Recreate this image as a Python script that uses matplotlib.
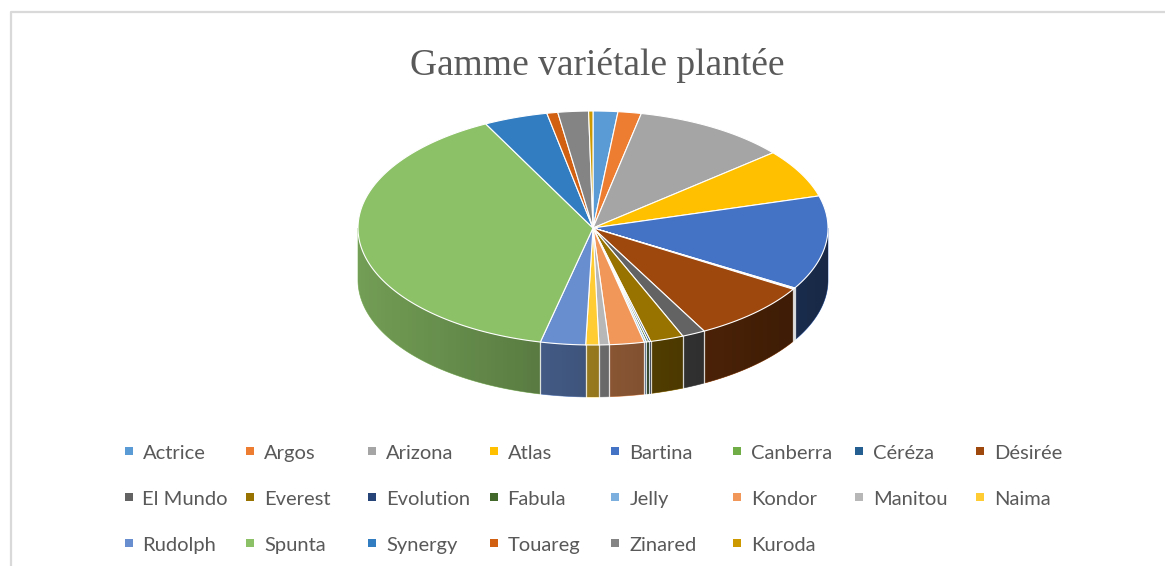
import numpy as np
import matplotlib
matplotlib.use("Agg")
import matplotlib.pyplot as plt
from matplotlib.patches import Polygon, Rectangle
from matplotlib.colors import to_rgb

labels = ["Actrice", "Argos", "Arizona", "Atlas", "Bartina", "Canberra", "Céréza", "Désirée",
          "El Mundo", "Everest", "Evolution", "Fabula", "Jelly", "Kondor", "Manitou", "Naima",
          "Rudolph", "Spunta", "Synergy", "Touareg", "Zinared", "Kuroda"]
values = [1.7, 1.6, 10.6, 6.7, 13.0, 0.1, 0.1, 8.4,
          1.6, 2.3, 0.15, 0.15, 0.15, 2.4, 0.7, 0.9,
          3.1, 38.9, 4.4, 0.75, 2.1, 0.3]
colors = ["#5B9BD5", "#ED7D31", "#A5A5A5", "#FFC000", "#4472C4", "#70AD47", "#255E91", "#9E480E",
          "#636363", "#997300", "#264478", "#43682B", "#7CAFDD", "#F1975A", "#B7B7B7", "#FFCD33",
          "#698ED0", "#8CC168", "#327DC2", "#D26012", "#848484", "#CC9A00"]
title = "Gamme variétale plantée"

W, H = 1165, 566
fig = plt.figure(figsize=(W / 100, H / 100), dpi=100)
ax = fig.add_axes([0, 0, 1, 1])
ax.set_xlim(0, W)
ax.set_ylim(H, 0)
ax.axis("off")

# chart area border
ax.plot([10.5, 10.5, W + 5], [H + 5, 11.5, 11.5], color="#D9D9D9", lw=1.6, solid_capstyle="butt")

cx, cy, rx, ry, depth = 593, 228, 235, 117, 52
vals = np.array(values, dtype=float)
fr = vals / vals.sum()
bounds = np.concatenate([[0], np.cumsum(fr)]) * 360


def pt(theta_deg, dz=0.0):
    t = np.radians(theta_deg)
    return cx + rx * np.sin(t), cy - ry * np.cos(t) + dz


# side walls (front half only), one flat polygon per slice
for i in range(len(vals)):
    a0, a1 = bounds[i], bounds[i + 1]
    lo, hi = max(a0, 90), min(a1, 270)
    if hi <= lo:
        continue
    th = np.linspace(lo, hi, max(2, int((hi - lo) / 0.5) + 2))
    xs, ys = pt(th)
    poly = list(zip(xs, ys)) + list(zip(xs[::-1], ys[::-1] + depth))
    ax.add_patch(Polygon(poly, closed=True, facecolor=colors[i], edgecolor=colors[i],
                         lw=0.5, zorder=1))

# shading gradient across the whole side wall (darker to the right)
th = np.linspace(90, 270, 361)
xs, ys = pt(th)
wall = Polygon(list(zip(xs, ys)) + list(zip(xs[::-1], ys[::-1] + depth)), closed=True,
               facecolor="none", edgecolor="none", transform=ax.transData)
ax.add_patch(wall)
t = np.linspace(0, 1, 400)
grad = np.zeros((2, 400, 4))
grad[..., 3] = 0.18 + 0.47 * t
im = ax.imshow(grad, extent=(cx - rx - 2, cx + rx + 2, cy + ry + depth + 5, cy - 5),
               origin="upper", aspect="auto", interpolation="bilinear", zorder=2)
im.set_clip_path(wall)
ax.set_xlim(0, W)
ax.set_ylim(H, 0)

# white separators on side wall
for a in bounds[1:-1]:
    if 90 < a < 270:
        x, y = pt(a)
        ax.plot([x, x], [y, y + depth], color="white", lw=0.9, alpha=0.8, zorder=3)

# top faces
for i in range(len(vals)):
    a0, a1 = bounds[i], bounds[i + 1]
    th = np.linspace(a0, a1, max(2, int((a1 - a0) / 0.5) + 2))
    xs, ys = pt(th)
    poly = [(cx, cy)] + list(zip(xs, ys))
    ax.add_patch(Polygon(poly, closed=True, facecolor=colors[i], edgecolor="white",
                         lw=0.8, joinstyle="round", zorder=4))

# title
ax.text(597, 75, title, fontsize=27, family="Liberation Serif", color="#595959",
        ha="center", va="baseline")

# legend
for i, (lab, col) in enumerate(zip(labels, colors)):
    r, c = divmod(i, 8)
    x = 128.5 + c * 121.7
    y = 451 + r * 46
    ax.add_patch(Rectangle((x - 4, y - 4), 8, 8, facecolor=col, edgecolor="none"))
    ax.text(x + 14, y + 8, lab, fontsize=14.5, family="Lato", color="#595959",
            ha="left", va="baseline")

fig.savefig("out.png", dpi=100, facecolor="white")
